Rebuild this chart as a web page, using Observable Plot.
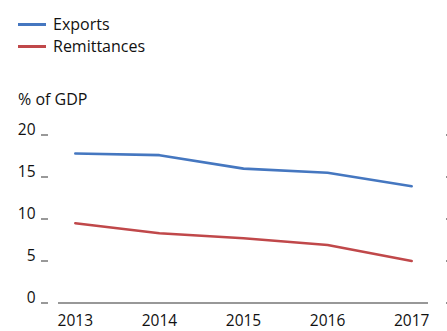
<!DOCTYPE html>
<html>
<head>
<meta charset="utf-8">
<script src="https://cdn.jsdelivr.net/npm/d3@7"></script>
<script src="https://cdn.jsdelivr.net/npm/@observablehq/plot@0.6"></script>
<style>
  html, body { margin: 0; padding: 0; background: #fff; }
  body { width: 447px; height: 331px; overflow: hidden; font-family: "Open Sans", sans-serif; color: #111; }
  .legend { padding-top: 13px; padding-left: 18px; }
  .row { height: 22px; line-height: 22px; font-size: 16px; display: flex; align-items: center; }
  .sw { width: 28px; height: 3px; margin-right: 7px; }
  .ylabel { margin-top: 31px; padding-left: 18px; height: 22px; line-height: 22px; font-size: 16px; }
  svg { display: block; }
</style>
</head>
<body>
<div class="legend" id="legend"></div>
<div class="ylabel">% of GDP</div>
<div id="chart"></div>
<script>
const years = [2013, 2014, 2015, 2016, 2017];
const exportsPct = [17.8, 17.6, 16.0, 15.5, 13.9];
const remittancesPct = [9.5, 8.3, 7.7, 6.9, 5.0];
const seriesNames = ["Exports", "Remittances"];
const seriesColors = ["#4577c0", "#c0484a"];
const yTicks = [0, 5, 10, 15, 20];

const data = [];
years.forEach((yr, i) => {
  data.push({year: yr, value: exportsPct[i], series: seriesNames[0]});
  data.push({year: yr, value: remittancesPct[i], series: seriesNames[1]});
});

const legend = document.getElementById("legend");
seriesNames.forEach((n, i) => {
  const row = document.createElement("div");
  row.className = "row";
  row.innerHTML = `<div class="sw" style="background:${seriesColors[i]}"></div><span>${n}</span>`;
  legend.appendChild(row);
});

const chart = Plot.plot({
  width: 447,
  height: 221,
  marginTop: 24.5,
  marginBottom: 28.5,
  marginLeft: 58,
  marginRight: 19,
  style: {fontFamily: "Open Sans, sans-serif", fontSize: "15.5px", color: "#111"},
  x: {domain: [2012.8, 2017.2], axis: null},
  y: {domain: [0, 20], axis: null},
  color: {domain: seriesNames, range: seriesColors},
  marks: [
    Plot.axisY(yTicks, {anchor: "left", tickSize: 7, dx: -10, tickFormat: () => "", label: null, stroke: "#777", strokeWidth: 1.5}),
    Plot.axisY(yTicks, {anchor: "left", tickSize: 0, tickPadding: 23, dy: -5, label: null, fill: "#111", fontSize: 15.5}),
    Plot.axisY(yTicks, {anchor: "right", tickSize: 2, dx: 17, tickFormat: () => "", label: null, stroke: "#222"}),
    Plot.axisX(years, {anchor: "bottom", tickSize: 0, tickPadding: 12, tickFormat: d3.format("d"), fill: "#111", fontSize: 15.5, label: null}),
    Plot.ruleY([0], {stroke: "#333", strokeWidth: 1.2}),
    Plot.line(data, {x: "year", y: "value", stroke: "series", strokeWidth: 2.6})
  ]
});
document.getElementById("chart").appendChild(chart);
</script>
</body>
</html>
